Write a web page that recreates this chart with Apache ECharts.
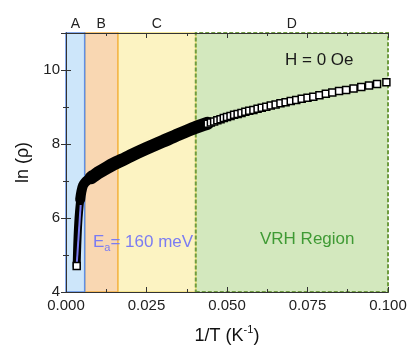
<!DOCTYPE html>
<html>
<head>
<meta charset="utf-8">
<script src="https://cdn.jsdelivr.net/npm/echarts@6.0.0/dist/echarts.min.js"></script>
<style>
	html, body { margin: 0; padding: 0; background: #fff; }
	#main { width: 416px; height: 358px; }
</style>
</head>
<body>
<div id="main"></div>
<script>
// region edges on the 1/T axis (A | B | C | D)
var regionEdges = [0, 0.0058, 0.0161, 0.0403, 0.1];
var regionNames = ['A', 'B', 'C', 'D'];

// steep part (region A)
var steepX = [0.00332, 0.0034, 0.0036, 0.0039, 0.0043, 0.0047];
var steepY = [4.70, 5.00, 5.50, 6.00, 6.40, 6.65];

// knee between the steep rise and the slow slope
var kneeX = [0.0044, 0.0048, 0.0053, 0.0060, 0.0070, 0.0085];
var kneeY = [6.50, 6.72, 6.88, 6.97, 7.04, 7.13];

// dense band where the squares overlap
var midX = [0.0078, 0.0085, 0.0100, 0.0125, 0.0150, 0.0175, 0.0200, 0.0250, 0.0300, 0.0350, 0.0400, 0.0440];
var midY = [7.09, 7.13, 7.22, 7.35, 7.47, 7.57, 7.68, 7.88, 8.07, 8.26, 8.44, 8.56];

// separate open squares (low T)
var markX = [0.0440, 0.0450, 0.0460, 0.0470, 0.0480, 0.0490, 0.0500, 0.0511, 0.0522, 0.0533, 0.0545, 0.0557,
	0.0569, 0.0582, 0.0595, 0.0608, 0.0622, 0.0636, 0.0651, 0.0666, 0.0682, 0.0698, 0.0715, 0.0732,
	0.0750, 0.0768, 0.0787, 0.0807, 0.0827, 0.0848, 0.0870, 0.0893, 0.0917, 0.0941, 0.0966, 0.0995];
var markY = [8.55, 8.58, 8.61, 8.64, 8.67, 8.70, 8.73, 8.76, 8.79, 8.81, 8.84, 8.87,
	8.90, 8.92, 8.95, 8.98, 9.01, 9.04, 9.07, 9.10, 9.13, 9.16, 9.19, 9.22,
	9.25, 9.28, 9.32, 9.36, 9.39, 9.43, 9.46, 9.50, 9.54, 9.58, 9.62, 9.67];

// first point (300 K)
var startX = [0.00332];
var startY = [4.70];

// activation fit, Ea = 160 meV
var fitX = [0.00332, 0.00456];
var fitY = [4.73, 6.35];

var xTicks = [0, 0.025, 0.05, 0.075, 0.1];
var yTicks = [4, 6, 8, 10];

function pairs(xs, ys) {
	return xs.map(function (x, i) { return [x, ys[i]]; });
}

var font = "'Liberation Sans', Arial, sans-serif";
var axisColor = '#333';

var myChart = echarts.init(document.getElementById('main'));

function axisBase(show) {
	return {
		type: 'value',
		z: 3,
		axisLine: { show: true, lineStyle: { color: axisColor, width: 1 } },
		axisTick: { show: true, inside: true, length: 5, lineStyle: { color: axisColor } },
		minorTick: { show: true, splitNumber: 2, length: 3, lineStyle: { color: axisColor } },
		splitLine: { show: false },
		axisLabel: { show: show, color: '#222', fontSize: 15, fontFamily: font, margin: 6 }
	};
}

var xBottom = axisBase(true);
xBottom.position = 'bottom';
xBottom.min = xTicks[0];
xBottom.max = xTicks[xTicks.length - 1];
xBottom.interval = 0.025;
xBottom.axisLabel.formatter = function (v) { return v.toFixed(3); };
xBottom.name = '1/T (K{sup|-1})';
xBottom.nameLocation = 'middle';
xBottom.nameGap = 32;
xBottom.nameTextStyle = {
	color: '#111', fontSize: 18, fontFamily: font, lineHeight: 24,
	rich: { sup: { fontSize: 11, fontFamily: font, color: '#111', verticalAlign: 'top', lineHeight: 24 } }
};

var xTop = axisBase(false);
xTop.position = 'top';
xTop.min = xTicks[0];
xTop.max = xTicks[xTicks.length - 1];
xTop.interval = 0.025;

var yLeft = axisBase(true);
yLeft.position = 'left';
yLeft.min = yTicks[0];
yLeft.max = 11;
yLeft.interval = 2;
yLeft.axisLabel.showMaxLabel = false;
yLeft.name = 'ln (ρ)';
yLeft.nameLocation = 'middle';
yLeft.nameGap = 29;
yLeft.nameTextStyle = { color: '#111', fontSize: 18, fontFamily: font };

var yRight = axisBase(false);
yRight.position = 'right';
yRight.min = yTicks[0];
yRight.max = 11;
yRight.interval = 2;

function area(i, fill, border, width) {
	return [
		{ xAxis: regionEdges[i], itemStyle: { color: fill, borderColor: border, borderWidth: width } },
		{ xAxis: regionEdges[i + 1] }
	];
}

var option = {
	animation: false,
	grid: { left: 66, right: 28, top: 33, bottom: 66 },
	xAxis: [xBottom, xTop],
	yAxis: [yLeft, yRight],
	series: [
		{
			name: 'regions',
			type: 'line',
			z: 1,
			data: [],
			silent: true,
			markArea: {
				silent: true,
				data: [
					area(3, '#d3e8be', 'rgba(0,0,0,0)', 0),
					area(2, '#fcf3c2', '#f3e27c', 1.5),
					area(1, '#f9d7b2', '#f5b347', 1.5),
					area(0, '#cde6fa', '#5f8fe6', 1.5)
				]
			}
		},
		{
			name: 'steep',
			type: 'line',
			z: 2,
			data: pairs(steepX, steepY),
			showSymbol: false,
			smooth: 0.3,
			lineStyle: { color: '#000', width: 8, cap: 'round', join: 'round' }
		},
		{
			name: 'knee',
			type: 'line',
			z: 2,
			data: pairs(kneeX, kneeY),
			showSymbol: false,
			smooth: 0.4,
			lineStyle: { color: '#000', width: 10, cap: 'round', join: 'round' }
		},
		{
			name: 'band',
			type: 'line',
			z: 2,
			data: pairs(midX, midY),
			showSymbol: false,
			smooth: 0.3,
			lineStyle: { color: '#000', width: 13, cap: 'round', join: 'round' }
		},
		{
			name: 'squares',
			type: 'scatter',
			z: 2,
			symbol: 'rect',
			symbolSize: 7,
			data: pairs(markX, markY).concat(pairs(startX, startY)),
			itemStyle: { color: '#fff', borderColor: '#000', borderWidth: 1.5, opacity: 1 }
		},
		{
			name: 'fit',
			type: 'line',
			z: 2,
			data: pairs(fitX, fitY),
			showSymbol: false,
			lineStyle: { color: '#7b7cf2', width: 2 }
		},
		{
			name: 'D border',
			type: 'line',
			z: 4,
			data: [],
			silent: true,
			markArea: {
				silent: true,
				data: [
					[
						{ xAxis: regionEdges[3], itemStyle: { color: 'rgba(0,0,0,0)', borderColor: '#6f9c40', borderWidth: 2, borderType: [4, 2] } },
						{ xAxis: regionEdges[4] }
					]
				]
			}
		}
	]
};
myChart.setOption(option);

// region letters above the frame, annotations inside
var letters = regionNames.map(function (n, i) {
	var cx = myChart.convertToPixel({ xAxisIndex: 0 }, (regionEdges[i] + regionEdges[i + 1]) / 2);
	return {
		type: 'text', x: cx, y: 24,
		style: { text: n, fill: '#222', font: '14px ' + font, align: 'center', verticalAlign: 'middle' }
	};
});

myChart.setOption({
	graphic: letters.concat([
		{
			type: 'text', x: 285, y: 60, z: 10,
			style: { text: 'H = 0 Oe', fill: '#1a1a1a', font: '17px ' + font, align: 'left', verticalAlign: 'middle' }
		},
		{
			type: 'text', x: 260, y: 239, z: 10,
			style: { text: 'VRH Region', fill: '#3f9a34', font: '17px ' + font, align: 'left', verticalAlign: 'middle' }
		},
		{
			type: 'text', x: 93, y: 242, z: 10,
			style: {
				text: '{m|E}{s|a}{m|= 160 meV}',
				align: 'left', verticalAlign: 'middle',
				rich: {
					m: { fontSize: 17, fontFamily: font, fill: '#7b7cf2', lineHeight: 22 },
					s: { fontSize: 11, fontFamily: font, fill: '#7b7cf2', lineHeight: 22, verticalAlign: 'bottom' }
				}
			}
		}
	])
});
</script>
</body>
</html>
